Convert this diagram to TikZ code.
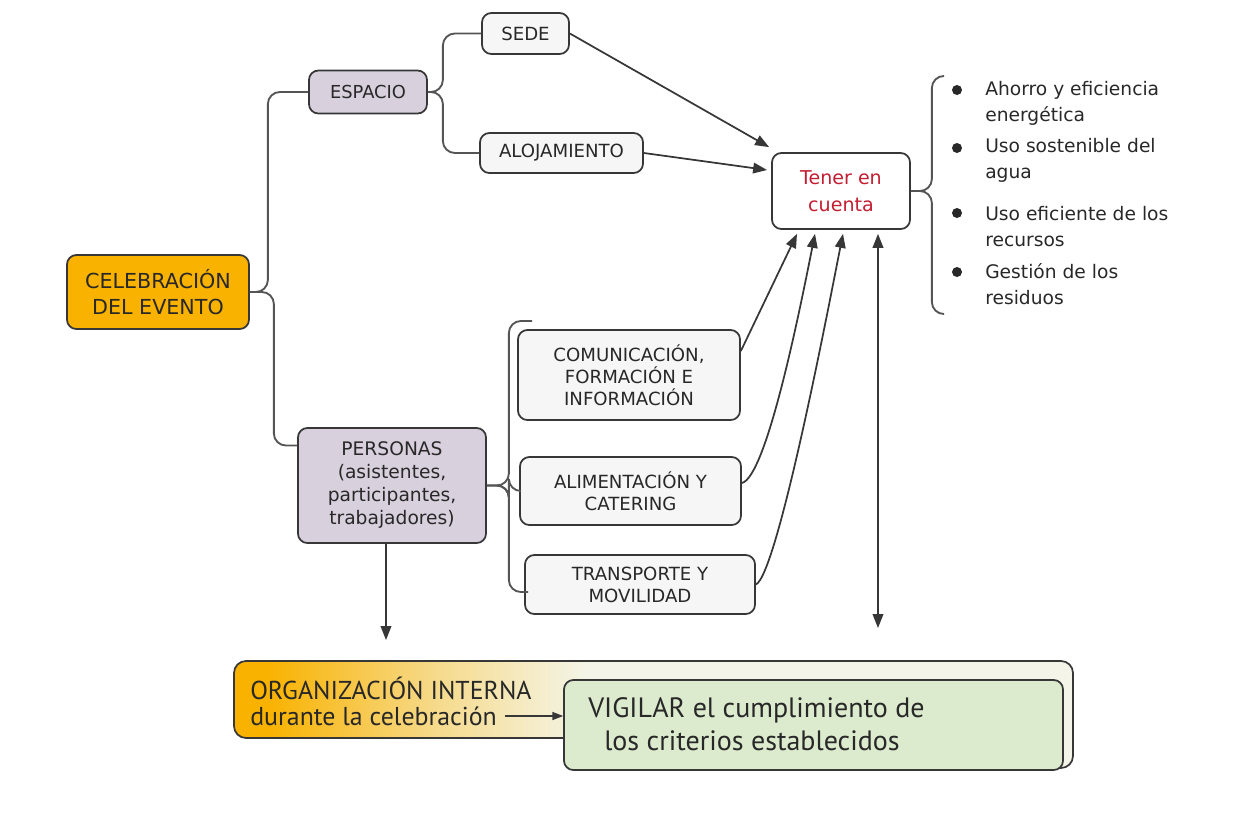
\documentclass[tikz,border=0pt]{standalone}
\usepackage{fontspec}
\setmainfont{DejaVu Sans}
\newfontfamily\orgfont{PT Sans}
\usetikzlibrary{arrows.meta,calc}

\definecolor{lineC}{RGB}{55,55,55}
\definecolor{txtC}{RGB}{40,40,40}
\definecolor{orgC}{RGB}{249,178,0}
\definecolor{lilaC}{RGB}{217,208,222}
\definecolor{greyC}{RGB}{246,246,246}
\definecolor{redC}{RGB}{196,30,50}
\definecolor{greenC}{RGB}{220,235,206}
\definecolor{creamC}{RGB}{244,245,232}

\pgfdeclarehorizontalshading{orgfade}{100bp}{color(0bp)=(orgC); color(27bp)=(orgC); color(37bp)=(orgC!40!creamC); color(46bp)=(creamC); color(100bp)=(creamC)}

\tikzset{
  box/.style={draw=lineC, line width=1.3pt, rounded corners=7pt, align=center, text=txtC, inner sep=2pt},
  celbox/.style={box, fill=orgC, minimum width=136.5pt, minimum height=55.5pt, font=\fontsize{15.5}{19.5}\selectfont},
  lilabox/.style={box, fill=lilaC},
  greybox/.style={box, fill=greyC, font=\fontsize{13.6}{16.3}\selectfont},
  link/.style={draw=lineC!85, line width=1.4pt, rounded corners=9pt},
  arr/.style={draw=lineC, line width=1.3pt, -{Triangle[length=10.5pt,width=8pt]}},
  item/.style={anchor=west, align=left, text=txtC, inner sep=0pt, font=\fontsize{14}{19.5}\selectfont},
  dot/.style={circle, fill=txtC, inner sep=0pt, minimum size=7.5pt},
  orgtext/.style={anchor=west, inner sep=0pt, text=txtC, font=\orgfont\fontsize{19.4}{21}\selectfont},
}

\begin{document}
\begin{tikzpicture}[x=0.75pt,y=0.75pt,yscale=-1,xscale=1]
\useasboundingbox (0,0) rectangle (1233,825);

%Shape: bottom band
\path[draw=lineC, line width=1.3pt, shade, shading=orgfade, rounded corners=9pt] (234,661) -- (1073,661) -- (1073,768) -- (620,768) -- (620,738) -- (234,738) -- cycle;

% Boxes
\node[celbox] (cel) at (158,292) {CELEBRACIÓN\\DEL EVENTO};
\node[lilabox, minimum width=88.5pt, minimum height=32.25pt, font=\fontsize{13.4}{16}\selectfont] (espacio) at (368,92) {ESPACIO};
\node[greybox, minimum width=65.25pt, minimum height=30.75pt] (sede) at (525.5,33.5) {SEDE};
\node[greybox, minimum width=122.25pt, minimum height=30pt] (aloj) at (561.5,153) {ALOJAMIENTO};
\node[box, fill=white, text=redC, minimum width=103.5pt, minimum height=57pt, font=\fontsize{14.3}{20}\selectfont] (tener) at (841,191) {Tener en\\cuenta};
\node[lilabox, minimum width=141pt, minimum height=86.25pt, font=\fontsize{14}{17.25}\selectfont] (personas) at (392,485.5) {PERSONAS\\(asistentes,\\participantes,\\trabajadores)};
\node[greybox, minimum width=166.5pt, minimum height=67.5pt] (comm) at (629,375) {COMUNICACIÓN,\\FORMACIÓN E\\INFORMACIÓN};
\node[greybox, minimum width=165.75pt, minimum height=51pt, font=\fontsize{13.6}{16.5}\selectfont] (alim) at (630.5,491) {ALIMENTACIÓN Y\\CATERING};
\node[greybox, minimum width=172.5pt, minimum height=44.25pt, font=\fontsize{13.6}{16.5}\selectfont] (trans) at (640,584.5) {TRANSPORTE Y\\MOVILIDAD};
\node[box, fill=greenC, minimum width=374.25pt, minimum height=67.5pt] (green) at (813.5,725) {};

% Text Node
\node[orgtext] (orgA) at (250,688) {ORGANIZACIÓN INTERNA};
\node[orgtext] (orgB) at (250,716) {durante la celebración};
\node[anchor=west, align=left, inner sep=0pt, text=txtC, font=\orgfont\fontsize{21}{24.75}\selectfont] (vigilar) at (588,724) {VIGILAR el cumplimiento de\\\hspace*{12pt}los criterios establecidos};

% Bullet list
\node[dot] (d1) at (957,90) {};
\node[dot] (d2) at (957,148) {};
\node[dot] (d3) at (957,213) {};
\node[dot] (d4) at (957,272) {};
\node[item] (it1) at (985,103) {Ahorro y eficiencia\\energética};
\node[item] (it2) at (985,160.5) {Uso sostenible del\\agua};
\node[item] (it3) at (985,226.5) {Uso eficiente de los\\recursos};
\node[item] (it4) at (985,284.5) {Gestión de los\\residuos};

% Brace ends
\coordinate (bt) at (944,76);
\coordinate (bb) at (944,314);
\coordinate (ptop) at (532,321);
\coordinate (pbot) at (528,592);
\coordinate (perend) at (386,640);
\coordinate (orgtop) at (878,628);

% Braces
\draw[link] (cel.east) -- ++(18,0) |- (espacio.west);
\draw[link] (cel.east) -- ++(24,0) |- ([yshift=-30pt]personas.west);
\draw[link] (espacio.east) -- ++(15,0) |- (sede.west);
\draw[link] (espacio.east) -- ++(15,0) |- (aloj.west);
\draw[link] (tener.east) -- ++(21,0) |- (bt);
\draw[link] (tener.east) -- ++(21,0) |- (bb);
\draw[link] (personas.east) -- ++(22,0) |- (ptop);
\draw[link] (personas.east) -- ++(22,0) |- (alim.west);
\draw[link] (personas.east) -- ++(22,0) |- (pbot);

% Arrows
\draw[arr] (sede.east) -- ([xshift=-1.5pt,yshift=-3.75pt]tener.north west);
\draw[arr] (aloj.east) -- ([xshift=-3pt,yshift=-15.75pt]tener.west);
\draw[arr] ([yshift=-18pt]comm.east) -- ([xshift=-33pt,yshift=3pt]tener.south);
\draw[arr] ([yshift=-6pt]alim.east) .. controls +(25,-6) and +(-14,70) .. ([xshift=-19.5pt,yshift=3pt]tener.south);
\draw[arr] (trans.east) .. controls +(22,-10) and +(-12,60) .. ([xshift=1.5pt,yshift=3pt]tener.south);
\draw[arr, {Triangle[length=10.5pt,width=8pt]}-{Triangle[length=10.5pt,width=8pt]}] ([xshift=27.75pt,yshift=3pt]tener.south) -- (orgtop);
\draw[arr] (personas.south -| perend) -- (perend);
\draw[draw=lineC, line width=0.8pt, -{Triangle[length=8pt,width=6pt]}] ([xshift=6pt]orgB.east) -- (orgB.east -| green.west);

\end{tikzpicture}
\end{document}
